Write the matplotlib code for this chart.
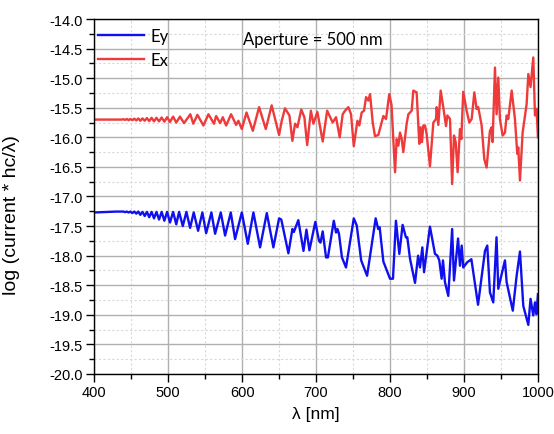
import matplotlib
matplotlib.use('Agg')
import matplotlib.pyplot as plt
from matplotlib.ticker import MultipleLocator, FormatStrFormatter

# Ey (blue) - wavelength [nm] and log value
ey_wl = [400, 410, 420, 430, 437,
         439.5, 441.8, 444.2, 446.6, 449.1, 451.6, 454.2, 456.9, 459.6, 462.4,
         465.3, 468.3, 471.3, 474.4, 477.6, 480.9, 484.2, 487.7, 491.2, 494.9,
         498.6, 502.5, 506.7, 511, 514.8, 519.8, 524.7, 529.7, 534.6, 540.5,
         546.3, 551.4, 558.5, 563.5, 571.2, 577, 584.7, 590.5, 599.6,
         607.7, 615.3, 624.3, 633.4, 642.3, 650, 653, 662.6, 668, 670, 676, 683, 687, 691,
         699, 704, 706, 709, 713.5, 716, 724, 727, 729, 731, 735, 740.5, 751,
         755, 761, 769, 780.6, 784, 786, 791, 800, 804, 808, 812.6, 817, 821.5,
         823.4, 827, 833.8, 838, 840.5, 843.7, 846, 854, 860.8, 864, 866.6,
         869.8, 871.6, 874.3, 878.8, 884, 886.5, 892, 894.6, 896.9, 899, 904.5,
         908, 910, 919, 928.4, 931.5, 935.1, 939.6, 944, 946.4, 951, 955.4,
         957.7, 966, 971.2, 975.7, 980.2, 987, 990, 993.7, 996, 998, 1000]
ey_val = [-17.27, -17.265, -17.26, -17.255, -17.255,
          -17.255, -17.265, -17.255, -17.27, -17.255, -17.28, -17.255, -17.29, -17.255, -17.31,
          -17.26, -17.33, -17.26, -17.35, -17.26, -17.37, -17.26, -17.39, -17.26, -17.41,
          -17.26, -17.44, -17.26, -17.47, -17.26, -17.50, -17.26, -17.53, -17.27, -17.58,
          -17.27, -17.62, -17.27, -17.63, -17.27, -17.66, -17.27, -17.72, -17.27,
          -17.80, -17.27, -17.86, -17.28, -17.86, -17.37, -17.39, -17.96, -17.55, -17.60,
          -17.40, -17.92, -17.56, -17.91,
          -17.43, -17.75, -17.78, -17.59, -18.03, -18.03, -17.41, -17.61, -17.55, -17.63,
          -18.03, -18.20, -17.37,
          -17.49, -18.08, -18.34, -17.37, -17.55, -17.52, -18.10, -18.39, -18.39, -17.41,
          -17.97, -17.48, -17.69,
          -17.69, -18.05, -18.46, -18.00, -18.20, -17.86, -18.28, -17.51, -17.97, -18.00,
          -18.08,
          -18.39, -18.08, -18.45, -18.68, -17.55, -18.42, -17.71, -18.17, -17.83, -18.20,
          -18.11,
          -18.08, -18.06, -18.83, -17.92, -17.83, -18.62, -18.79, -17.69, -18.56, -18.31,
          -18.08,
          -18.45, -18.93, -18.34, -17.93, -18.85, -19.17, -18.73, -19.01, -18.79, -18.99,
          -18.65]

# Ex (red)
ex_wl = [400, 420, 437,
         439.5, 441.8, 444.2, 446.6, 449.1, 451.6, 454.2, 456.9, 459.6, 462.4,
         465.3, 468.3, 471.3, 474.4, 477.6, 480.9, 484.2, 487.7, 491.2, 494.9,
         498.6, 502.5, 506.7, 511, 516, 521.5, 530, 534, 539.6, 547.7, 554.5,
         562, 564.9, 570.3, 573.9, 578.4, 585.1, 591.9, 595, 599.6, 606,
         614.5, 623, 632, 640, 646.9, 650, 653.6, 658, 664, 668, 671.6, 674.8,
         680, 684.2, 688, 693, 696.4, 701.8, 709, 715, 722.5, 727, 732, 736,
         739.2, 743.7, 747.3, 751, 755.9, 758.5, 761.7, 764.9, 767.6, 770.7, 773,
         776.6, 779.7, 784.2, 788.7, 791, 794.6, 799, 802, 806.8, 809, 811.3,
         813.5, 815.8, 818, 822.5, 824.8, 829.3, 831.5, 836, 838.3, 839.6, 841.4,
         843.2, 845, 847.3, 849.5, 854, 858.6, 862.2, 863.1, 865.3, 868.5, 872,
         875.7, 877.5, 881.1, 884, 886.5, 888.8, 891.4, 894.6, 896.4, 899, 903.6,
         907.2, 910.4, 914, 917.1, 919.3, 923.9, 927.5, 930.6, 935.1, 937.4,
         938.7, 941.9, 944.1, 946.4, 948.6, 952.3, 955.4, 957.7, 959.9, 964.5,
         968.9, 972.1, 973.4, 975.7, 979.3, 984.7, 987, 990, 993.7, 996, 998.2,
         1000]
ex_val = [-15.70, -15.70, -15.70,
          -15.695, -15.705, -15.69, -15.71, -15.69, -15.71, -15.685, -15.715, -15.68, -15.72,
          -15.68, -15.72, -15.675, -15.725, -15.67, -15.73, -15.67, -15.73, -15.665, -15.735,
          -15.66, -15.74, -15.65, -15.75, -15.65, -15.76, -15.61, -15.77, -15.62, -15.80,
          -15.61,
          -15.77, -15.64, -15.76, -15.66, -15.80, -15.61, -15.79, -15.72, -15.86, -15.58,
          -15.89, -15.49, -15.86, -15.46, -15.80, -15.96, -15.72, -15.51, -15.63, -16.06,
          -15.77, -15.83,
          -15.53, -15.66, -16.13, -15.55, -15.77, -15.57, -16.07, -15.55, -15.75, -15.66,
          -16.00, -15.61,
          -15.55, -15.49, -15.61, -16.15, -15.72, -15.80, -15.58, -15.55, -15.32, -15.38,
          -15.27,
          -15.75, -15.98, -15.96, -15.75, -15.64, -15.69, -15.27, -15.45, -16.59, -16.03,
          -16.14,
          -15.92, -16.03, -16.25, -15.77, -15.61, -15.55, -15.21, -15.24, -15.80, -16.11,
          -15.83,
          -16.08, -15.80, -15.80, -15.94, -16.49, -15.75, -15.69, -15.49, -15.79, -15.21,
          -15.49,
          -15.81, -15.63, -15.69, -16.79, -15.97, -16.08, -16.59, -15.86, -16.03, -15.23,
          -15.55,
          -15.75, -15.69, -15.24, -15.52, -15.49, -15.80, -16.37, -16.51, -15.89, -15.83,
          -16.08, -14.82, -15.61, -14.99, -15.69, -15.97, -15.92, -15.63, -15.69, -15.21,
          -15.69, -16.28, -16.17, -16.73, -15.92, -15.44, -14.93, -15.15, -14.65, -15.63,
          -15.52,
          -16.00]

plt.rcParams['font.family'] = ['Liberation Sans', 'DejaVu Sans']

fig = plt.figure(figsize=(5.54, 4.35), dpi=100)
ax = fig.add_axes([0.170, 0.138, 0.801, 0.816])

ax.plot(ey_wl, ey_val, color='#1010ee', lw=1.7, label='Ey',
        solid_joinstyle='round')
ax.plot(ex_wl, ex_val, color='#ee3a3a', lw=1.7, label='Ex',
        solid_joinstyle='round')

ax.set_xlim(400, 1000)
ax.set_ylim(-20, -14)
ax.xaxis.set_major_locator(MultipleLocator(100))
ax.xaxis.set_minor_locator(MultipleLocator(50))
ax.yaxis.set_major_locator(MultipleLocator(0.5))
ax.yaxis.set_minor_locator(MultipleLocator(0.25))
ax.yaxis.set_major_formatter(FormatStrFormatter('%.1f'))

ax.grid(which='major', color='#b0b0b0', lw=1.0, ls='-')
ax.grid(which='minor', color='#d8d8d8', lw=0.8, ls=(0, (2, 2)))
ax.set_axisbelow(True)

ax.tick_params(which='major', direction='out', length=6, width=1,
               labelsize=10.5, pad=2)
ax.tick_params(which='minor', direction='out', length=3.5, width=1)
for s in ax.spines.values():
    s.set_linewidth(1.0)

ax.set_xlabel('λ [nm]', fontsize=12.5, labelpad=5)
ax.set_ylabel('log (current * hc/λ)', fontsize=14)
ax.yaxis.set_label_coords(-0.167, 0.45)

leg = ax.legend(loc='upper left', bbox_to_anchor=(0.0, 0.985), frameon=False,
                handlelength=2.8, borderaxespad=0.0, borderpad=0.2,
                handletextpad=0.35, labelspacing=0.5,
                prop={'family': 'Lato', 'size': 12})
ax.text(0.335, 0.965, 'Aperture = 500 nm', transform=ax.transAxes,
        fontsize=12, family='Lato', va='top', ha='left')

fig.savefig('out.png', dpi=100)
